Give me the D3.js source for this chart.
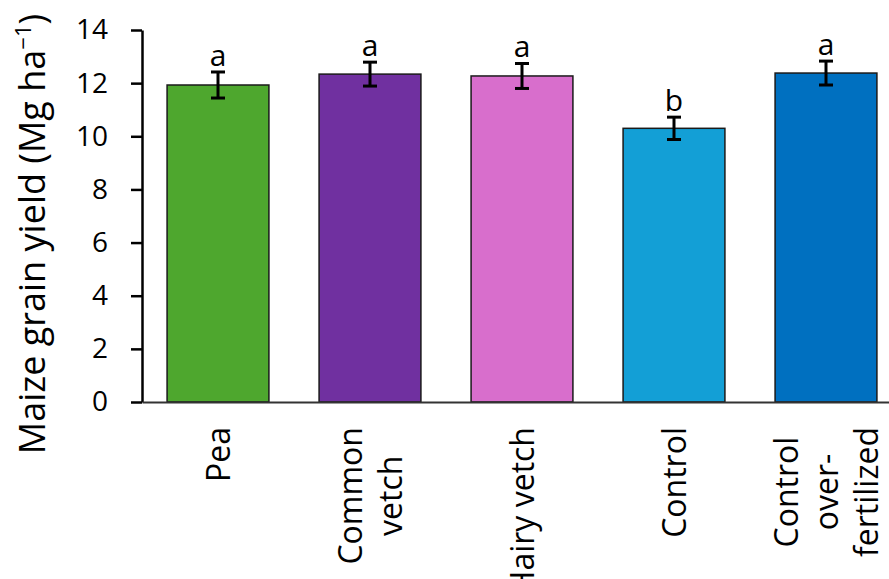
<!DOCTYPE html>
<html>
<head>
<meta charset="utf-8">
<script src="https://cdn.jsdelivr.net/npm/d3@7"></script>
<style>
  body { margin: 0; background: #fff; }
  text { font-family: "Open Sans", sans-serif; fill: #000; }
</style>
</head>
<body>
<svg id="chart" width="889" height="579"></svg>
<script>
// treatments and their yields (Mg/ha)
var categories = ["Pea", "Common vetch", "Hairy vetch", "Control", "Control over-fertilized"];
var labelLines = [["Pea"], ["Common", "vetch"], ["Hairy vetch"], ["Control"], ["Control", "over-", "fertilized"]];
var yields = [11.93, 12.34, 12.27, 10.30, 12.38];
var errors = [0.49, 0.45, 0.47, 0.42, 0.45];
var letters = ["a", "a", "a", "b", "a"];
var colors = ["#4ea72e", "#7030a0", "#d86ecc", "#139fd6", "#0070c0"];
var yTicks = [0, 2, 4, 6, 8, 10, 12, 14];

var svg = d3.select("#chart");

var x = d3.scaleBand()
    .domain(categories)
    .range([142, 902])
    .paddingInner(0.33)
    .paddingOuter(0.165);

var y = d3.scaleLinear()
    .domain([0, 14])
    .range([402, 30]);

// bars
svg.selectAll(".bar")
    .data(categories)
    .enter()
    .append("rect")
    .attr("class", "bar")
    .attr("x", function(d) { return x(d); })
    .attr("y", function(d, i) { return y(yields[i]); })
    .attr("width", x.bandwidth())
    .attr("height", function(d, i) { return y(0) - y(yields[i]); })
    .attr("fill", function(d, i) { return colors[i]; })
    .attr("stroke", "#1a1a1a")
    .attr("stroke-width", 1.5);

// error bars
var err = svg.selectAll(".err")
    .data(categories)
    .enter()
    .append("g")
    .attr("class", "err")
    .attr("stroke", "#000")
    .attr("stroke-width", 3);

err.append("line")
    .attr("x1", function(d) { return x(d) + x.bandwidth() / 2; })
    .attr("x2", function(d) { return x(d) + x.bandwidth() / 2; })
    .attr("y1", function(d, i) { return y(yields[i] + errors[i]); })
    .attr("y2", function(d, i) { return y(yields[i] - errors[i]); });

[1, -1].forEach(function(s) {
    err.append("line")
        .attr("x1", function(d) { return x(d) + x.bandwidth() / 2 - 7; })
        .attr("x2", function(d) { return x(d) + x.bandwidth() / 2 + 7; })
        .attr("y1", function(d, i) { return y(yields[i] + s * errors[i]); })
        .attr("y2", function(d, i) { return y(yields[i] + s * errors[i]); });
});

// significance letters
svg.selectAll(".sig")
    .data(categories)
    .enter()
    .append("text")
    .attr("class", "sig")
    .attr("x", function(d) { return x(d) + x.bandwidth() / 2; })
    .attr("y", function(d, i) { return y(yields[i] + errors[i]) - 6; })
    .attr("text-anchor", "middle")
    .style("font-size", "30px")
    .text(function(d, i) { return letters[i]; });

// y axis
var yAxis = svg.append("g")
    .attr("transform", "translate(142,0)")
    .call(d3.axisLeft(y).tickValues(yTicks).tickSize(11).tickPadding(23).tickSizeOuter(0));
yAxis.select(".domain").attr("stroke", "#000").attr("stroke-width", 2.5);
yAxis.selectAll(".tick line").attr("stroke", "#000").attr("stroke-width", 2.5);
yAxis.selectAll(".tick text")
    .style("font-family", "'Open Sans', sans-serif")
    .style("font-size", "28px");

// x axis line (no ticks)
var xAxis = svg.append("g")
    .attr("transform", "translate(0,402)")
    .call(d3.axisBottom(x).tickSize(0).tickFormat(""));
xAxis.select(".domain").attr("stroke", "#333").attr("stroke-width", 2);

// rotated category labels: block starts just below the axis, lines centred
var capH = 23, lineH = 40;
var lab = svg.selectAll(".cat")
    .data(categories)
    .enter()
    .append("g")
    .attr("class", "cat");

lab.each(function(d, i) {
    var g = d3.select(this);
    var lines = labelLines[i];
    var b0 = (capH - (lines.length - 1) * lineH) / 2;
    var texts = lines.map(function(t, k) {
        return g.append("text")
            .attr("text-anchor", "middle")
            .attr("y", b0 + k * lineH)
            .style("font-size", "32px")
            .text(t);
    });
    var maxLen = d3.max(texts, function(t) { return t.node().getComputedTextLength(); });
    g.attr("transform", "translate(" + (x(d) + x.bandwidth() / 2) + "," + (427 + maxLen / 2) + ") rotate(-90)");
});

// y axis title
var title = svg.append("text")
    .attr("transform", "translate(45,234) rotate(-90)")
    .attr("text-anchor", "middle")
    .style("font-size", "36px");
title.append("tspan").text("Maize grain yield (Mg ha");
title.append("tspan").attr("dy", -14).style("font-size", "22px").text("\u22121");
title.append("tspan").attr("dy", 14).text(")");
</script>
</body>
</html>
